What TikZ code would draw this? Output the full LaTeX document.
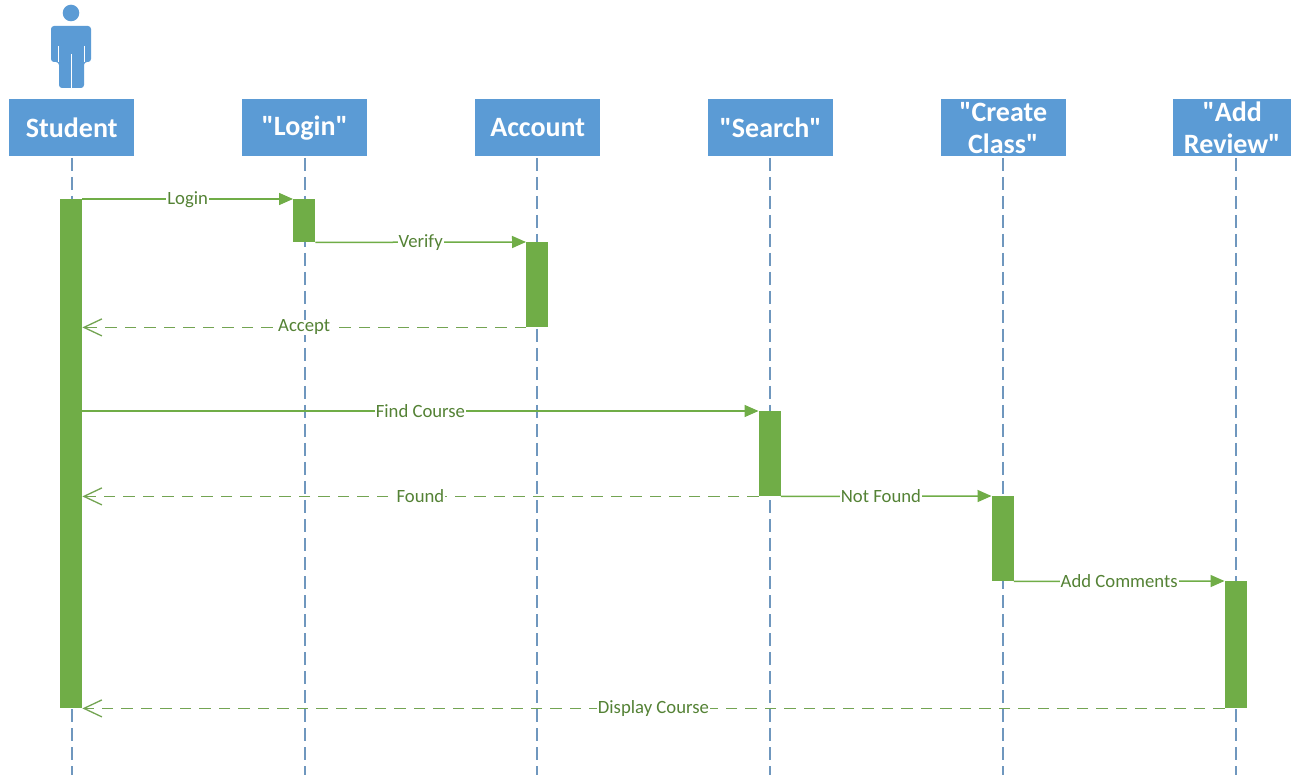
\documentclass[tikz,border=0pt]{standalone}
\usepackage{fontspec}
\setmainfont{Carlito}
\newfontfamily\hfont{Carlito}
\usetikzlibrary{arrows.meta}
\definecolor{hdr}{HTML}{5B9BD5}
\definecolor{grn}{HTML}{70AD47}
\definecolor{lbl}{HTML}{548235}
\definecolor{life}{HTML}{6F97BE}
\tikzset{
  x=1pt,y=-1pt,
  head/.style={fill=hdr,draw=none,minimum width=125pt,minimum height=57pt,inner sep=0pt,text=white,
    font=\hfont\fontsize{28}{32}\selectfont\bfseries,align=center,anchor=north west},
  bar/.style={fill=grn,draw=none,minimum width=22pt,inner sep=0pt,anchor=north west},
  lifeline/.style={draw=life,line width=1.2pt,dash pattern=on 13pt off 6pt},
  msg/.style={draw=grn,line width=1.5pt,-{Triangle[length=14pt,width=12pt,fill=grn]}},
  ret/.style={draw=grn!80!gray,line width=1.4pt,dash pattern=on 11.5pt off 8pt,-{Straight Barb[length=18pt,width=17pt,line width=1.3pt,color=grn!80!gray]}},
  lab/.style={fill=white,text=lbl,inner xsep=1pt,inner ysep=0pt,font=\fontsize{18.7}{20}\selectfont}
}
\begin{document}
\begin{tikzpicture}
\useasboundingbox[fill=white] (0,0) rectangle (1291,775);
% actor
\fill[hdr] (71,13) circle (8.3);
\fill[hdr,rounded corners=3pt] (51,62) -- (51,26) -- (91,26) -- (91,62) -- (84,62) -- (84,88) -- (59,88) -- (59,62) -- cycle;
\draw[white,line width=1pt] (58,46) -- (58,62) (84.5,46) -- (84.5,62) (71,54) -- (71,88);
% headers
\node[head] (student) at (9,99) {Student};
\node[head] (login) at (242,99) {"Login"};
\node[head] (account) at (475,99) {Account};
\node[head] (search) at (708,99) {"Search"};
\node[head] (create) at (940.5,99) {"Create\\Class"};
\begin{scope}
\clip (0,0) rectangle (1291,775);
\node[head,minimum width=118pt] (review) at (1173,99) {"Add\\Review"};
\end{scope}
% lifelines
\coordinate (e1) at (72,775);
\coordinate (e2) at (305,775);
\coordinate (e3) at (537,775);
\coordinate (e4) at (770,775);
\coordinate (e5) at (1003,775);
\coordinate (e6) at (1236,775);
\path (72,158) coordinate (s1) (305,158) coordinate (s2) (537,158) coordinate (s3)
      (770,158) coordinate (s4) (1003,158) coordinate (s5) (1236,158) coordinate (s6);
\foreach \i in {1,...,6} \draw[lifeline] (s\i) -- (e\i);
% activations
\node[bar,minimum height=509pt] (a1) at (60,199) {};
\node[bar,minimum height=43pt] (a2) at (293,199) {};
\node[bar,minimum height=85pt] (a3) at (526,242) {};
\node[bar,minimum height=85pt] (a4) at (758.5,411) {};
\node[bar,minimum height=85pt] (a5) at (991.5,496) {};
\node[bar,minimum height=127pt] (a6) at (1224.5,581) {};
% messages
\draw[msg] (a1.north east) -- node[lab,pos=.5,yshift=-1pt]{Login} (a2.north west);
\draw[msg] (a2.south east) -- node[lab,pos=.5]{Verify} (a3.north west);
\draw[ret] (a3.south west) -- node[lab,pos=.5]{Accept} (a3.south west -| a1.east);
\draw[msg] (a1.east |- a4.north) -- node[lab,pos=.5]{Find Course} (a4.north west);
\draw[ret] (a4.south west) -- node[lab,pos=.5]{Found} (a4.south west -| a1.east);
\draw[msg] (a4.south east) -- node[lab,pos=.475]{Not Found} (a5.north west);
\draw[msg] (a5.south east) -- node[lab,pos=.5]{Add Comments} (a6.north west);
\draw[ret] (a6.south west) -- node[lab,pos=.5]{Display Course} (a6.south west -| a1.east);
\end{tikzpicture}
\end{document}
